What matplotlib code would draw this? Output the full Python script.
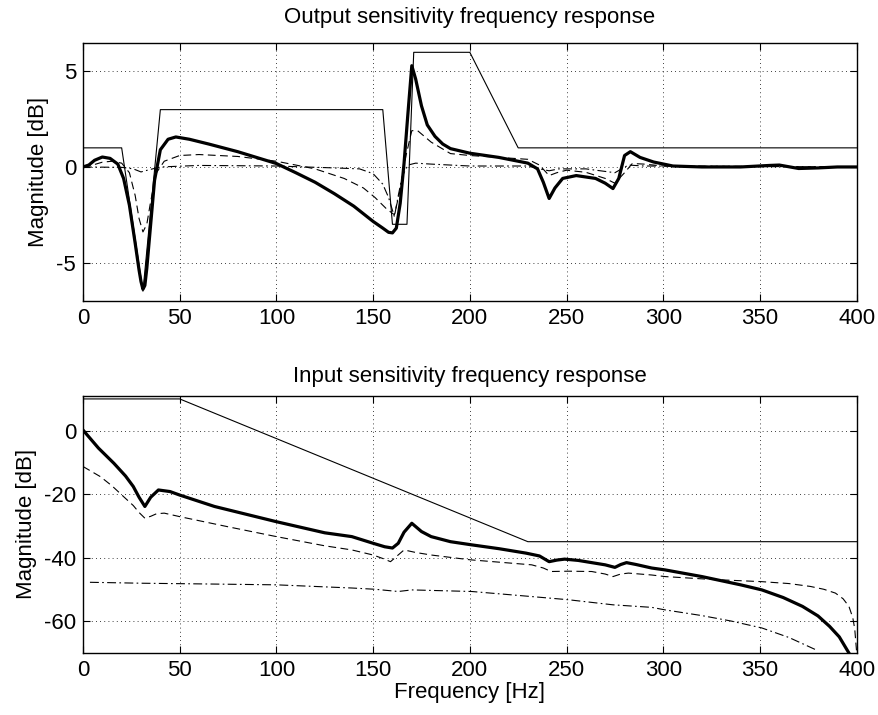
import matplotlib
matplotlib.use("Agg")
import matplotlib.pyplot as plt

plt.rcParams['font.family'] = ['Liberation Sans', 'DejaVu Sans']
plt.rcParams['axes.unicode_minus'] = False

# ---------------- Output sensitivity (top) ----------------
top_thick_f = [0, 3, 6, 10, 14, 18, 21, 24, 27, 29, 30, 31, 32, 33, 35, 37, 40, 44, 48, 55, 65, 80,
               100, 110, 120, 130, 140, 145, 150, 155, 158, 160, 162, 164, 166, 168, 170, 172,
               175, 178, 182, 186, 190, 200, 215, 230, 235, 238, 241, 244, 248, 255, 265, 270, 274,
               277, 280, 283, 288, 295, 305, 320, 340, 355, 360, 370, 380, 390, 400]
top_thick_db = [0, 0.1, 0.35, 0.52, 0.45, 0.15, -0.6, -2.0, -4.0, -5.4, -6.0, -6.4, -6.2, -5.3, -3.0,
                -0.7, 0.9, 1.45, 1.57, 1.45, 1.2, 0.8, 0.18, -0.3, -0.8, -1.4, -2.05, -2.45,
                -2.85, -3.2, -3.42, -3.45, -3.2, -1.9, 0.2, 2.8, 5.3, 4.6, 3.2, 2.2, 1.6, 1.2, 0.96,
                0.72, 0.5, 0.2, -0.1, -0.8, -1.65, -1.1, -0.6, -0.45, -0.6, -0.85, -1.13, -0.6, 0.6,
                0.8, 0.5, 0.26, 0.05, 0.0, 0.0, 0.08, 0.1, -0.08, -0.05, 0.0, 0.0]

top_dash_f = [0, 5, 10, 15, 20, 24, 27, 29, 31, 33, 35, 38, 42, 50, 60, 80, 100, 120, 135, 145, 151,
              157, 161, 164, 167, 170, 173, 180, 190, 200, 215, 230, 236, 241, 245, 250, 260, 270,
              275, 280, 284, 290, 300, 400]
top_dash_db = [0, 0.1, 0.25, 0.3, 0.2, -0.3, -1.5, -2.7, -3.4, -3.0, -1.8, -0.3, 0.3, 0.6, 0.65, 0.55,
               0.3, -0.1, -0.6, -1.1, -1.6, -2.2, -2.5, -1.2, 0.6, 1.9, 1.9, 1.3, 0.7, 0.6, 0.5, 0.4,
               0.1, -0.45, -0.3, -0.17, -0.28, -0.6, -0.85, -0.3, 0.18, 0.15, 0.05, 0.0]

top_dd_f = [0, 20, 26, 30, 34, 40, 60, 100, 130, 143, 150, 155, 158, 161, 163, 165, 168, 172, 180,
            200, 230, 236, 241, 246, 260, 275, 282, 290, 400]
top_dd_db = [0, -0.02, -0.1, -0.26, -0.15, 0.0, 0.08, 0.05, -0.05, -0.1, -0.35, -0.9, -1.6, -2.6,
             -1.5, -0.5, 0.1, 0.2, 0.15, 0.05, 0.05, -0.1, -0.2, -0.1, -0.1, -0.3, 0.1, 0.05, 0.0]

top_bound_f = [0, 20, 31, 40, 155, 160, 167.5, 171, 200, 225, 400]
top_bound_db = [1, 1, -6.5, 3, 3, -3, -3, 6, 6, 1, 1]

# ---------------- Input sensitivity (bottom) ----------------
bot_thick_f = [0, 8, 16, 22, 26, 29, 32, 35, 39, 45, 50, 68, 100, 125, 139, 150, 156, 160, 163, 166,
               170, 175, 180, 190, 201, 215, 229, 236, 241, 245, 249, 256, 263, 270, 275, 278, 281,
               286, 294, 301, 320, 340, 351, 362, 372, 380, 386, 391, 396]
bot_thick_db = [0.2, -5.5, -10.3, -14.3, -17.6, -21.0, -23.9, -21.0, -18.7, -19.2, -20.3, -23.9,
                -28.7, -32.2, -33.4, -35.5, -36.6, -37.0, -35.5, -32.0, -29.2, -31.8, -33.4, -35.0,
                -36.0, -37.2, -38.6, -39.5, -41.3, -40.8, -40.5, -40.9, -41.6, -42.3, -43.1, -42.2,
                -41.6, -42.2, -43.3, -43.9, -46.0, -48.6, -50.2, -52.6, -55.4, -58.4, -61.7, -65.0,
                -70.1]

bot_dash_f = [0, 9, 15, 21, 26, 29, 32, 35, 38, 42, 50, 75, 100, 125, 139, 150, 155, 159, 162, 166,
              172, 180, 200, 232, 238, 242, 251, 263, 270, 274, 278, 282, 294, 301, 325, 351, 365,
              376, 383, 389, 393, 396, 398, 399, 400]
bot_dash_db = [-11.3, -14.5, -17.4, -20.8, -23.6, -25.8, -27.6, -27.0, -26.2, -26.0, -27.1, -30.3,
               -33.4, -36.3, -37.6, -39.2, -40.3, -41.3, -39.7, -37.6, -38.4, -39.2, -40.7, -42.3,
               -43.3, -44.4, -44.3, -44.4, -45.2, -46.0, -45.2, -44.9, -45.5, -46.0, -46.9, -47.6,
               -48.2, -49.1, -50.0, -51.2, -53.0, -55.4, -59.0, -62.5, -70.0]

bot_dd_f = [3.6, 31, 60, 100, 139, 151, 163, 170, 201, 232, 251, 274, 294, 301, 320, 335, 351, 365,
            379]
bot_dd_db = [-47.8, -48.1, -48.3, -48.6, -49.6, -50.0, -50.7, -50.2, -50.7, -52.3, -53.3, -54.9,
             -55.7, -56.5, -58.3, -60.0, -62.2, -65.2, -69.1]

bot_bound_f = [0, 50, 230, 400]
bot_bound_db = [10, 10, -35, -35]

x_ticks = [0, 50, 100, 150, 200, 250, 300, 350, 400]
top_yticks = [-5, 0, 5]
bot_yticks = [-60, -40, -20, 0]

fig = plt.figure(figsize=(8.79, 7.15), dpi=100)
ax1 = fig.add_axes([0.0944, 0.5794, 0.8802, 0.3608])
ax2 = fig.add_axes([0.0944, 0.0871, 0.8802, 0.3594])

FS = 16
thick = dict(color='black', lw=2.3, solid_joinstyle='round')
thin = dict(color='black', lw=0.8)
dash = dict(color='black', lw=0.8, linestyle=(0, (7, 4)))
ddot = dict(color='black', lw=0.8, linestyle=(0, (8, 3, 1.5, 3)))

ax1.plot(top_bound_f, top_bound_db, **thin)
ax1.plot(top_dd_f, top_dd_db, **ddot)
ax1.plot(top_dash_f, top_dash_db, **dash)
ax1.plot(top_thick_f, top_thick_db, **thick)
ax1.set_ylim(-7, 6.5)
ax1.set_yticks(top_yticks)
ax1.set_title('Output sensitivity frequency response', fontsize=FS, pad=14)

ax2.plot(bot_bound_f, bot_bound_db, **thin)
ax2.plot(bot_dd_f, bot_dd_db, **ddot)
ax2.plot(bot_dash_f, bot_dash_db, **dash)
ax2.plot(bot_thick_f, bot_thick_db, **thick)
ax2.set_ylim(-70, 11)
ax2.set_yticks(bot_yticks)
ax2.set_title('Input sensitivity frequency response', fontsize=FS, pad=10)
ax2.set_xlabel('Frequency [Hz]', fontsize=FS, labelpad=1)

for ax in (ax1, ax2):
    ax.set_xlim(0, 400)
    ax.set_xticks(x_ticks)
    ax.set_ylabel('Magnitude [dB]', fontsize=FS, labelpad=5)
    ax.grid(True, color='black', linestyle=(0, (1, 4)), lw=0.6)
    ax.tick_params(direction='in', length=5, width=0.8, top=True, right=True, labelsize=FS, pad=5)
    for s in ax.spines.values():
        s.set_linewidth(1.0)

fig.savefig('out.png', dpi=100)
